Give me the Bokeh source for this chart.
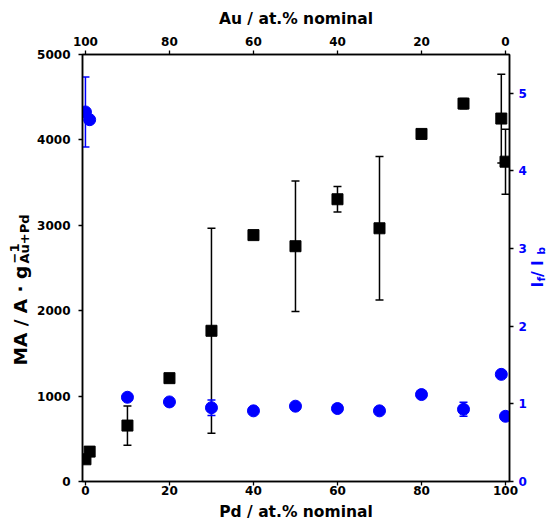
import math
from bokeh.plotting import figure
from bokeh.layouts import row
from bokeh.models import (Range1d, LinearAxis, FixedTicker, ColumnDataSource,
                          Whisker, TeeHead, Label)
from bokeh.embed import file_html
from bokeh.resources import INLINE

# ---- data ----
pd_pct = [0, 1, 10, 20, 30, 40, 50, 60, 70, 80, 90, 99, 100]
ma = [260, 350, 655, 1210, 1765, 2885, 2755, 3305, 2965, 4070, 4425, 4250, 3745]
ma_err = [0, 0, 230, 0, 1200, 40, 765, 150, 840, 0, 60, 520, 380]
ratio = [4.76, 4.66, 1.085, 1.025, 0.95, 0.91, 0.97, 0.94, 0.91, 1.12, 0.93, 1.38, 0.84]
ratio_err = [0.45, 0, 0, 0, 0.1, 0, 0, 0, 0, 0, 0.09, 0, 0.05]

x_ticks = [0, 20, 40, 60, 80, 100]
ma_ticks = [0, 1000, 2000, 3000, 4000, 5000]
ratio_ticks = [0, 1, 2, 3, 4, 5]

BLUE = "#0000ff"
FONT = "DejaVu Sans"
H = 523
LW, RW = 34, 18          # widths of the side strips carrying the y titles

x_lo, x_hi = -0.7, 100.95
p = figure(width=547 - LW - RW, height=H, output_backend="svg",
           toolbar_location=None,
           x_range=Range1d(x_lo, x_hi), y_range=Range1d(0, 5000),
           min_border_left=81 - LW, min_border_right=547 - RW - 81 - 429 - LW + LW - 0,
           min_border_top=54, min_border_bottom=41)
p.min_border_right = (547 - LW - RW) - (81 - LW) - 429
p.extra_x_ranges = {"au": Range1d(100 - x_lo, 100 - x_hi)}
p.extra_y_ranges = {"ratio": Range1d(0, 5.5)}
p.xgrid.grid_line_color = None
p.ygrid.grid_line_color = None
p.outline_line_color = "black"
p.outline_line_width = 1.5

p.add_layout(LinearAxis(x_range_name="au"), "above")
p.add_layout(LinearAxis(y_range_name="ratio"), "right")

def style(ax, ticks, standoff, label_color="black"):
    ax.ticker = FixedTicker(ticks=ticks)
    ax.axis_line_color = "black"
    ax.axis_line_width = 1.5
    ax.major_tick_line_color = "black"
    ax.major_tick_line_width = 1.3
    ax.major_tick_out = 4
    ax.major_tick_in = 0
    ax.minor_tick_out = 0
    ax.minor_tick_in = 0
    ax.major_label_text_font = FONT
    ax.major_label_text_font_style = "bold"
    ax.major_label_text_font_size = "12px"
    ax.major_label_text_color = label_color
    ax.major_label_standoff = standoff
    ax.axis_label_text_font = FONT
    ax.axis_label_text_font_style = "bold"
    ax.axis_label_text_font_size = "15.5px"
    ax.axis_label_text_color = "black"

style(p.below[0], x_ticks, 0)
style(p.above[0], x_ticks, 5)
style(p.left[0], ma_ticks, 8)
style(p.right[0], ratio_ticks, 5, BLUE)
p.below[0].axis_label = "Pd / at.% nominal"
p.below[0].axis_label_standoff = 5
p.above[0].axis_label = "Au / at.% nominal"
p.above[0].axis_label_standoff = 6

# ---- error bars (only where an error was drawn) ----
def err_source(xs, ys, es):
    xx, lo, up = [], [], []
    for x, y, e in zip(xs, ys, es):
        if e > 0:
            xx.append(x); lo.append(y - e); up.append(y + e)
    return ColumnDataSource(dict(x=xx, lo=lo, up=up))

ma_err_src = err_source(pd_pct, ma, ma_err)
r_err_src = err_source(pd_pct, ratio, ratio_err)

p.add_layout(Whisker(base="x", lower="lo", upper="up", source=ma_err_src,
                     line_color="black", line_width=1.5,
                     upper_head=TeeHead(size=8, line_color="black", line_width=1.5),
                     lower_head=TeeHead(size=8, line_color="black", line_width=1.5)))
p.add_layout(Whisker(base="x", lower="lo", upper="up", source=r_err_src,
                     y_range_name="ratio", line_color=BLUE, line_width=1.5,
                     upper_head=TeeHead(size=8, line_color=BLUE, line_width=1.5),
                     lower_head=TeeHead(size=8, line_color=BLUE, line_width=1.5)))

src = ColumnDataSource(dict(x=pd_pct, ma=ma, ratio=ratio))
p.scatter(x="x", y="ma", source=src, marker="square", size=11,
          fill_color="black", line_color="black")
p.scatter(x="x", y="ratio", source=src, marker="circle", size=12,
          fill_color=BLUE, line_color=BLUE, y_range_name="ratio")

# ---- side strips that carry the composite (sub/superscript) axis titles ----
def strip(w):
    f = figure(width=w, height=H, output_backend="svg", toolbar_location=None,
               x_axis_location=None, y_axis_location=None, min_border=0,
               x_range=Range1d(0, w), y_range=Range1d(0, H))
    f.xgrid.grid_line_color = None
    f.ygrid.grid_line_color = None
    f.outline_line_color = None
    return f

def lab(f, text, x, y, size, color="black"):
    f.add_layout(Label(x=x, y=y, x_units="screen", y_units="screen", text=text,
                       angle=math.pi / 2, text_align="left",
                       text_baseline="alphabetic", text_font=FONT,
                       text_font_style="bold", text_font_size=size,
                       text_color=color))

# y is measured from the bottom of the (aligned) plot frame
left = strip(LW)
lab(left, "MA / A \u00b7 g", 19.6, 116, "18.5px")
lab(left, "\u22121", 14, 218, "13px")
lab(left, "Au+Pd", 24, 218, "13px")

right = strip(RW)
lab(right, "I", 8.6, 194, "15.5px", BLUE)
lab(right, "f", 12.2, 200, "11px", BLUE)
lab(right, " / I", 8.6, 204.5, "15.5px", BLUE)
lab(right, "b", 12.2, 226.7, "11px", BLUE)

layout = row(left, p, right)
open("out.html", "w").write(file_html(layout, INLINE))
